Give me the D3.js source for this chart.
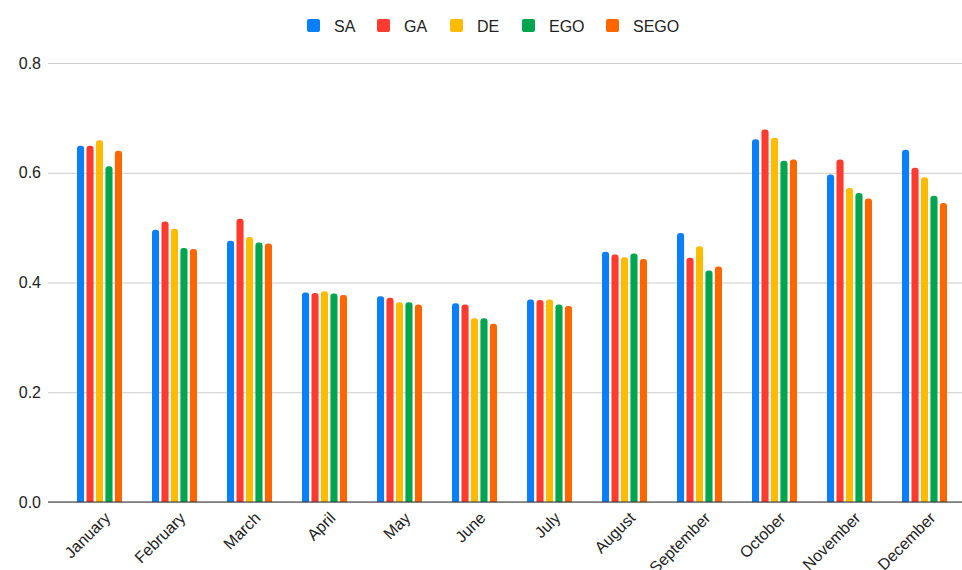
<!DOCTYPE html>
<html>
<head>
<meta charset="utf-8">
<script src="https://cdn.jsdelivr.net/npm/d3@7"></script>
<style>
  body { margin: 0; background: #fff; }
  text { font-family: "Liberation Sans", Arial, sans-serif; fill: #222; }
</style>
</head>
<body>
<script>
let width = 962;
let height = 570;

// data
let months = ['January', 'February', 'March', 'April', 'May', 'June', 'July',
  'August', 'September', 'October', 'November', 'December'];
let seriesNames = ['SA', 'GA', 'DE', 'EGO', 'SEGO'];
let seriesColors = ['#0a7ffa', '#ff3b30', '#ffbb00', '#00a54f', '#ff6600'];
let SA   = [0.649, 0.496, 0.476, 0.382, 0.375, 0.362, 0.369, 0.456, 0.490, 0.661, 0.597, 0.642];
let GA   = [0.649, 0.511, 0.516, 0.381, 0.372, 0.360, 0.368, 0.451, 0.445, 0.679, 0.624, 0.609];
let DE   = [0.659, 0.498, 0.483, 0.384, 0.364, 0.335, 0.369, 0.446, 0.466, 0.664, 0.572, 0.592];
let EGO  = [0.612, 0.463, 0.473, 0.380, 0.364, 0.335, 0.360, 0.453, 0.422, 0.622, 0.563, 0.558];
let SEGO = [0.640, 0.461, 0.471, 0.377, 0.360, 0.325, 0.357, 0.443, 0.429, 0.624, 0.553, 0.545];
let yTicks = [0, 0.2, 0.4, 0.6, 0.8];

let seriesValues = [SA, GA, DE, EGO, SEGO];

let margin = { left: 48, right: 0, top: 63, bottom: 68 };
let plotBottom = height - margin.bottom;

let svg = d3.select('body').append('svg')
  .attr('width', width)
  .attr('height', height);

let x0 = d3.scaleBand()
  .domain(months)
  .range([62, width])
  .paddingInner(0.4)
  .paddingOuter(0.2);

let x1 = d3.scaleBand()
  .domain(seriesNames)
  .range([0, x0.bandwidth()])
  .paddingInner(0.25);

let y = d3.scaleLinear()
  .domain([0, 0.8])
  .range([plotBottom, margin.top]);

// gridlines + y labels
let yAxis = svg.append('g')
  .attr('transform', 'translate(' + margin.left + ',0)')
  .call(d3.axisLeft(y).tickValues(yTicks).tickFormat(d3.format('.1f'))
    .tickSize(-(width - margin.left)).tickPadding(7));
yAxis.select('.domain').remove();
yAxis.selectAll('.tick line').attr('stroke', '#cccccc').attr('stroke-width', 1);
yAxis.selectAll('.tick text')
  .style('font-size', '16px')
  .attr('fill', '#222');

// bars, rounded at the top
let r = 3;
function barPath(bx, by, bw, bh) {
  if (bh < r) return 'M' + bx + ',' + (by + bh) + 'v' + (-bh) + 'h' + bw + 'v' + bh + 'Z';
  return 'M' + bx + ',' + (by + bh) +
    'V' + (by + r) +
    'Q' + bx + ',' + by + ' ' + (bx + r) + ',' + by +
    'H' + (bx + bw - r) +
    'Q' + (bx + bw) + ',' + by + ' ' + (bx + bw) + ',' + (by + r) +
    'V' + (by + bh) + 'Z';
}

let groups = svg.append('g').selectAll('g')
  .data(months)
  .enter().append('g')
  .attr('transform', function(d) { return 'translate(' + x0(d) + ',0)'; });

groups.selectAll('path')
  .data(function(m, i) {
    return seriesNames.map(function(s, j) {
      return { key: s, value: seriesValues[j][i], color: seriesColors[j] };
    });
  })
  .enter().append('path')
  .attr('fill', function(d) { return d.color; })
  .attr('d', function(d) {
    let top = y(d.value);
    return barPath(x1(d.key), top, x1.bandwidth(), plotBottom - top);
  });

// baseline
let xAxis = svg.append('g')
  .attr('transform', 'translate(0,' + plotBottom + ')');
xAxis.append('line')
  .attr('x1', margin.left)
  .attr('x2', width)
  .attr('stroke', '#333')
  .attr('stroke-width', 1.2);

xAxis.selectAll('text')
  .data(months)
  .enter().append('text')
  .attr('text-anchor', 'end')
  .style('font-size', '16px')
  .attr('transform', function(d) {
    return 'translate(' + (x0(d) + x0.bandwidth() / 2 + 8) + ',13)rotate(-45)';
  })
  .attr('dy', '0.35em')
  .text(function(d) { return d; });

// legend
let legendX = [307, 377, 450, 522, 606];
let legend = svg.selectAll('g.legend')
  .data(seriesNames)
  .enter().append('g')
  .attr('class', 'legend')
  .attr('transform', function(d, i) { return 'translate(' + legendX[i] + ',19)'; });

legend.append('rect')
  .attr('width', 13)
  .attr('height', 13)
  .attr('rx', 2)
  .attr('fill', function(d, i) { return seriesColors[i]; });

legend.append('text')
  .attr('x', 27)
  .attr('y', 12.5)
  .style('font-size', '16px')
  .text(function(d) { return d; });
</script>
</body>
</html>
